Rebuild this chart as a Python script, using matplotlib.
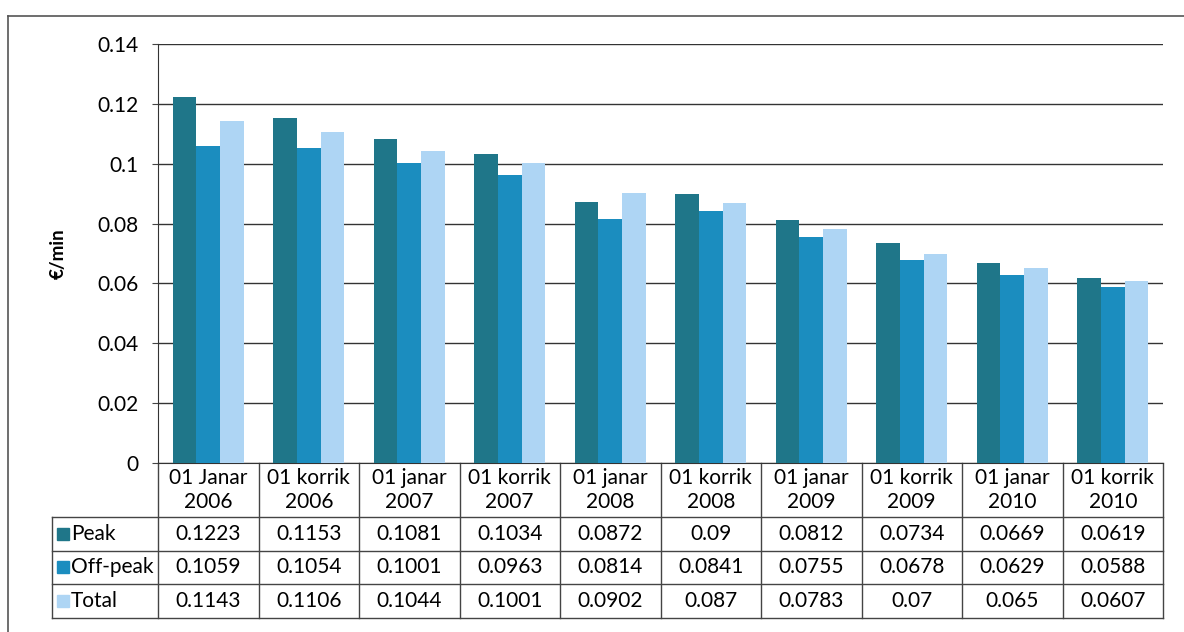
import matplotlib.pyplot as plt
import matplotlib.transforms as mtransforms
import numpy as np

plt.rcParams["font.family"] = ["Lato", "DejaVu Sans"]

categories = [
    "01 Janar\n2006", "01 korrik\n2006", "01 janar\n2007", "01 korrik\n2007",
    "01 janar\n2008", "01 korrik\n2008", "01 janar\n2009", "01 korrik\n2009",
    "01 janar\n2010", "01 korrik\n2010",
]
peak = [0.1223, 0.1153, 0.1081, 0.1034, 0.0872, 0.09, 0.0812, 0.0734, 0.0669, 0.0619]
off_peak = [0.1059, 0.1054, 0.1001, 0.0963, 0.0814, 0.0841, 0.0755, 0.0678, 0.0629, 0.0588]
total = [0.1143, 0.1106, 0.1044, 0.1001, 0.0902, 0.087, 0.0783, 0.07, 0.065, 0.0607]
series_names = ["Peak", "Off-peak", "Total"]
colors = ["#1f7689", "#1b8dbf", "#aed5f4"]

W, H = 1184, 632
fs = 15
fig = plt.figure(figsize=(W / 100, H / 100), dpi=100)

# outer chart frame (top and left edges visible in the scan)
fig.add_artist(plt.Line2D([8 / W, 1.0], [1 - 16 / H, 1 - 16 / H], color="#555555", lw=1.2))
fig.add_artist(plt.Line2D([8 / W, 8 / W], [0.0, 1 - 16 / H], color="#555555", lw=1.2))

x0, x1, ytop, ybot = 158, 1163, 44, 463
ax = fig.add_axes([x0 / W, 1 - ybot / H, (x1 - x0) / W, (ybot - ytop) / H])

x = np.arange(len(categories))
bw = 0.235
for i, (vals, c) in enumerate(zip([peak, off_peak, total], colors)):
    ax.bar(x + (i - 1) * bw, vals, width=bw, color=c, zorder=3)

ax.set_xlim(-0.5, len(categories) - 0.5)
ax.set_ylim(0, 0.14)
yt = np.arange(0, 0.141, 0.02)
ax.set_yticks(yt)
ax.set_yticklabels(["0", "0.02", "0.04", "0.06", "0.08", "0.1", "0.12", "0.14"], fontsize=fs)
ax.tick_params(axis="y", length=4, color="#444444", pad=10)
ax.set_xticks([])
ax.grid(axis="y", color="#333333", lw=1.0, zorder=0)
for s in ["top", "right"]:
    ax.spines[s].set_visible(False)
ax.spines["left"].set_color("#333333")
ax.spines["bottom"].set_color("#333333")
ax.set_ylabel("€/min", fontsize=13.5, fontweight="bold", labelpad=22)

# data table below the plot
trans = mtransforms.blended_transform_factory(ax.transData, ax.transAxes)
ph = ybot - ytop
hdr_bot = -(517 - ybot) / ph
row_h = 33.5 / ph
row_bots = [hdr_bot - row_h * (k + 1) for k in range(3)]
lab_left = -0.5 - (x0 - 52) / ((x1 - x0) / len(categories))
lc = "#444444"

# vertical lines
for b in np.arange(-0.5, len(categories) + 0.5, 1.0):
    ax.plot([b, b], [0, row_bots[-1]], color=lc, lw=1.0, transform=trans, clip_on=False)
ax.plot([lab_left, lab_left], [hdr_bot, row_bots[-1]], color=lc, lw=1.0,
        transform=trans, clip_on=False)
# horizontal lines
for yb in [hdr_bot] + row_bots:
    ax.plot([lab_left, len(categories) - 0.5], [yb, yb], color=lc, lw=1.0,
            transform=trans, clip_on=False)

for i, cat in enumerate(categories):
    ax.text(i, hdr_bot / 2, cat, ha="center", va="center", fontsize=fs,
            linespacing=1.3, transform=trans)

for r, (name, vals, c) in enumerate(zip(series_names, [peak, off_peak, total], colors)):
    yc = hdr_bot - row_h * (r + 0.5)
    ax.add_patch(plt.Rectangle((lab_left + 0.05, yc - 0.014), 0.12, 0.028, color=c,
                               transform=trans, clip_on=False))
    ax.text(lab_left + 0.19, yc, name, ha="left", va="center", fontsize=fs, transform=trans)
    for i, v in enumerate(vals):
        ax.text(i, yc, f"{v:g}", ha="center", va="center", fontsize=fs, transform=trans)

fig.savefig("out.png", dpi=100)
